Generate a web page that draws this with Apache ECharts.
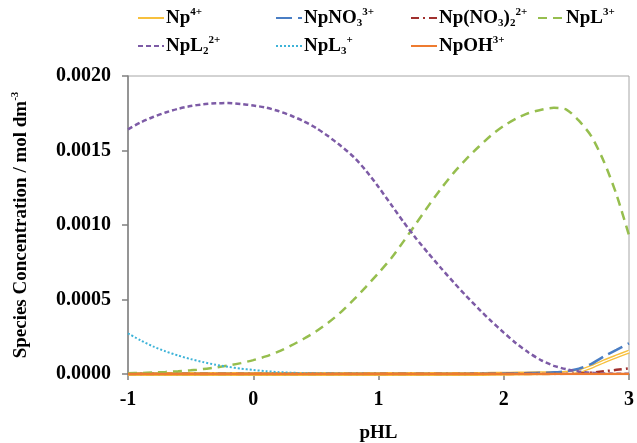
<!DOCTYPE html>
<html>
<head>
<meta charset="utf-8">
<script src="https://cdn.jsdelivr.net/npm/echarts@6/dist/echarts.min.js"></script>
<style>
html,body{margin:0;padding:0;background:#fff;}
#chart{width:637px;height:443px;}
</style>
</head>
<body>
<div id="chart"></div>
<script>
// pHL values (x)
var pHL = [-1.0,-0.9,-0.8,-0.7,-0.6,-0.5,-0.4,-0.3,-0.2,-0.1,
  0.0,0.1,0.2,0.3,0.4,0.5,0.6,0.7,0.8,0.9,
  1.0,1.1,1.2,1.3,1.4,1.5,1.6,1.7,1.8,1.9,
  2.0,2.1,2.2,2.3,2.4,2.5,2.6,2.7,2.8,2.9,3.0];

// Species concentrations / mol dm-3
var np4 = [0,0,0,0,0,0,0,0,0,0,
  0,0,0,0,0,0,0,0,0,0,
  0,0,0,0,0,0,0,0,0,0.000001,
  0.000002,0.000003,0.000004,0.000005,0.000006,0.000008,0.000019,0.000048,0.000085,0.000118,0.000150];
var npNO3 = [0,0,0,0,0,0,0,0,0,0,
  0,0,0,0,0,0,0,0,0,0,
  0,0,0,0,0,0.0000003,0.0000005,0.0000008,0.000001,0.000002,
  0.000003,0.000004,0.000006,0.000008,0.000011,0.000019,0.000036,0.000068,0.000118,0.000162,0.000206];
var npNO3_2 = [0,0,0,0,0,0,0,0,0,0,
  0,0,0,0,0,0,0,0,0,0,
  0,0,0,0,0,0,0,0,0,0,
  0,0,0,0,0,0.000001,0.000003,0.000009,0.000018,0.000028,0.000038];
var npL = [0.000005,0.000007,0.000010,0.000014,0.000019,0.000025,0.000033,0.000044,0.000057,0.000073,
  0.000093,0.000118,0.000150,0.000190,0.000235,0.000285,0.000345,0.000415,0.000497,0.000585,
  0.000678,0.000775,0.000890,0.001010,0.001130,0.001245,0.001350,0.001442,0.001525,0.001602,
  0.001665,0.001715,0.001752,0.001774,0.001787,0.001775,0.001700,0.001595,0.001425,0.001205,0.000930];
var npL2 = [0.001642,0.001688,0.001725,0.001755,0.001780,0.001798,0.001810,0.001817,0.001818,0.001812,
  0.001802,0.001788,0.001765,0.001735,0.001697,0.001652,0.001595,0.001530,0.001458,0.001365,
  0.001255,0.001138,0.001020,0.000910,0.000808,0.000710,0.000615,0.000524,0.000437,0.000355,
  0.000278,0.000205,0.000143,0.000092,0.000055,0.000032,0.000017,0.000008,0.000004,0.000002,0.000001];
var npL3 = [0.000273,0.000226,0.000185,0.000152,0.000124,0.000100,0.000080,0.000062,0.000048,0.000036,
  0.000027,0.000019,0.000013,0.000009,0.000006,0.000004,0.000003,0.000002,0.000001,0.000001,
  0,0,0,0,0,0,0,0,0,0,
  0,0,0,0,0,0,0,0,0,0,0];
var npOH = [0,0,0,0,0,0,0,0,0,0,
  0,0,0,0,0,0,0,0,0,0,
  0,0,0,0,0,0,0,0,0,0,
  0,0,0,0,0,0,0,0,0,0,0];

var seriesNames = ['Np4+','NpNO3 3+','Np(NO3)2 2+','NpL3+','NpL2 2+','NpL3 +','NpOH3+'];
var legendLabels = {
  'Np4+': '{b|Np}{sup|4+}',
  'NpNO3 3+': '{b|NpNO}{sub|3}{sup|3+}',
  'Np(NO3)2 2+': '{b|Np(NO}{sub|3}{b|)}{sub|2}{sup|2+}',
  'NpL3+': '{b|NpL}{sup|3+}',
  'NpL2 2+': '{b|NpL}{sub|2}{sup|2+}',
  'NpL3 +': '{b|NpL}{sub|3}{sup|+}',
  'NpOH3+': '{b|NpOH}{sup|3+}'
};
var xTicks = {min: -1, max: 3, interval: 1};
var yTicks = {min: 0, max: 0.002, interval: 0.0005};

function pairs(arr){ return pHL.map(function(x,i){ return [x, arr[i]]; }); }

var FONT = '"Liberation Serif", "Times New Roman", serif';
var rich = {
  b: {fontFamily: FONT, fontWeight: 'bold', fontSize: 19, color: '#000', lineHeight: 22},
  sup: {fontFamily: FONT, fontWeight: 'bold', fontSize: 11, color: '#000', lineHeight: 11, verticalAlign: 'top'},
  sub: {fontFamily: FONT, fontWeight: 'bold', fontSize: 11, color: '#000', lineHeight: 12, verticalAlign: 'bottom'}
};

var legendPos = [
  ['Np4+', 137, 7],
  ['NpNO3 3+', 275, 7],
  ['Np(NO3)2 2+', 410, 7],
  ['NpL3+', 537, 7],
  ['NpL2 2+', 137, 35],
  ['NpL3 +', 275, 35],
  ['NpOH3+', 410, 35]
];
var legends = legendPos.map(function(p){
  return {
    data: [p[0]], left: p[1], top: p[2], padding: 0,
    itemWidth: 26, itemHeight: 14, itemGap: 0,
    itemStyle: {color: 'rgba(0,0,0,0)', borderColor: 'rgba(0,0,0,0)', borderWidth: 0, opacity: 0},
    formatter: function(n){ return legendLabels[n]; },
    textStyle: {rich: rich, padding: [0,0,0,-3]},
    selectedMode: false
  };
});

function lineSeries(name, data, color, width, dash, z){
  return {
    name: name, type: 'line', data: pairs(data), symbol: 'none', showSymbol: false,
    smooth: 0.25, z: z,
    lineStyle: {color: color, width: width, type: dash, cap: 'butt'},
    itemStyle: {color: color},
    emphasis: {disabled: true}
  };
}

var series = [
  lineSeries('Np4+', np4, '#F7C03E', 4, 'solid', 2),
  {name: '_np4inner', type: 'line', data: pairs(np4), symbol: 'none', smooth: 0.25, z: 2,
    lineStyle: {color: '#ffffff', width: 1.2}, emphasis: {disabled: true}, silent: true},
  lineSeries('NpNO3 3+', npNO3, '#4A7EC4', 2.5, [16, 6], 3),
  lineSeries('Np(NO3)2 2+', npNO3_2, '#A0302E', 2.5, [8, 4, 2, 4], 3),
  lineSeries('NpL3+', npL, '#96BE4E', 2.5, [9, 6], 3),
  lineSeries('NpL2 2+', npL2, '#7D5BA6', 2.5, [5, 3], 3),
  lineSeries('NpL3 +', npL3, '#3DB3D8', 2, [2, 2], 3),
  lineSeries('NpOH3+', npOH, '#EE7B30', 2.5, 'solid', 4)
];

var chart = echarts.init(document.getElementById('chart'), null, {renderer: 'canvas'});
chart.setOption({
  animation: false,
  backgroundColor: '#ffffff',
  legend: legends,
  grid: {left: 128, right: 8, top: 76, bottom: 69, show: true, borderColor: '#A6A6A6', borderWidth: 1,
    containLabel: false, outerBoundsMode: 'none'},
  xAxis: {
    type: 'value', min: xTicks.min, max: xTicks.max, interval: xTicks.interval,
    name: 'pHL', nameLocation: 'middle', nameGap: 50,
    nameTextStyle: {fontFamily: FONT, fontWeight: 'bold', fontSize: 19, color: '#000'},
    axisLine: {show: true, onZero: false, lineStyle: {color: '#808080', width: 1.5}},
    axisTick: {show: true, length: 6, inside: false, lineStyle: {color: '#808080', width: 1.5}},
    axisLabel: {fontFamily: FONT, fontWeight: 'bold', fontSize: 20, color: '#000', margin: 16},
    splitLine: {show: false}
  },
  yAxis: {
    type: 'value', min: yTicks.min, max: yTicks.max, interval: yTicks.interval,
    name: '{b|Species Concentration / mol dm}{sup|-3}', nameLocation: 'middle', nameGap: 96,
    nameTextStyle: {rich: rich},
    axisLine: {show: true, onZero: false, lineStyle: {color: '#808080', width: 1.5}},
    axisTick: {show: true, length: 6, inside: false, lineStyle: {color: '#808080', width: 1.5}},
    axisLabel: {fontFamily: FONT, fontWeight: 'bold', fontSize: 20, color: '#000', margin: 17,
      formatter: function(v){ return v.toFixed(4); }},
    splitLine: {show: false}
  },
  series: series
});
</script>
</body>
</html>
